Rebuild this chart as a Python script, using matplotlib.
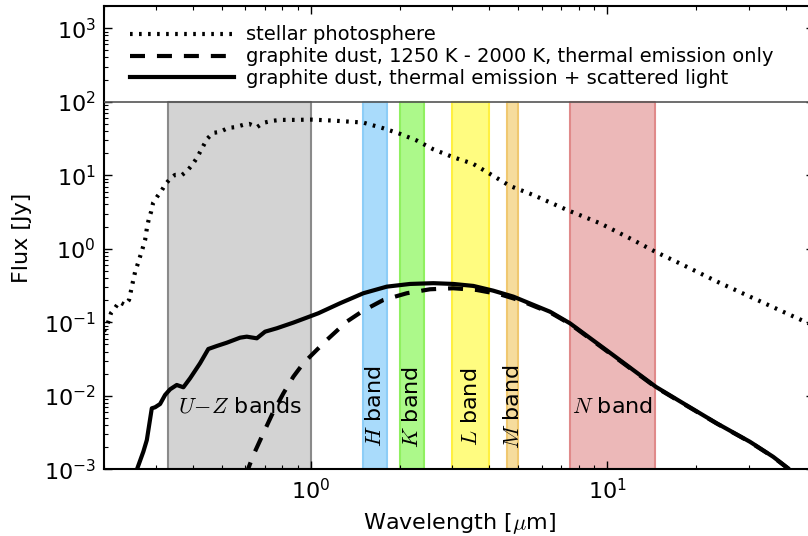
import numpy as np
import matplotlib
matplotlib.use("Agg")
import matplotlib.pyplot as plt
from matplotlib.ticker import LogLocator, NullFormatter

plt.rcParams['mathtext.fontset'] = 'cm'
plt.rcParams['axes.unicode_minus'] = False
plt.rcParams['lines.scale_dashes'] = False

# stellar photosphere
star_wl = [0.2, 0.2065, 0.2113, 0.218, 0.225, 0.2356, 0.243, 0.249, 0.2547, 0.2607,
           0.269, 0.2753, 0.2796, 0.2839, 0.2884, 0.293, 0.302, 0.314, 0.3214, 0.334,
           0.3475, 0.367, 0.3815, 0.3967, 0.412, 0.422, 0.4457, 0.4668, 0.493, 0.525,
           0.554, 0.5895, 0.618, 0.657, 0.689, 0.739, 0.786, 0.883, 1.0, 1.186,
           1.498, 1.75, 1.997, 2.275, 2.58, 3.015, 3.52, 4.02, 4.69, 5.61,
           7.31, 9.45, 12.2, 14.5, 18.0, 23.5, 30.3, 39.2, 47.2, 50.0]
star_flux = [0.075, 0.10, 0.134, 0.157, 0.189, 0.172, 0.201, 0.321, 0.483, 0.641,
             0.96, 1.32, 1.98, 2.62, 3.17, 4.2, 5.07, 6.3, 7.4, 8.9,
             10.1, 10.1, 11.4, 13.8, 17.2, 20.7, 31.2, 37.6, 38.8, 44.0,
             45.0, 48.3, 49.9, 45.0, 51.5, 54.8, 56.5, 56.5, 57.0, 55.3,
             52.0, 43.6, 36.5, 29.6, 22.6, 17.6, 14.3, 10.4, 7.15, 5.4,
             3.37, 2.22, 1.32, 0.912, 0.603, 0.356, 0.223, 0.139, 0.099, 0.09]

# graphite dust, thermal emission only
therm_wl = [0.60, 0.614, 0.639, 0.690, 0.746, 0.8065, 0.8715, 0.942, 1.045, 1.13,
            1.32, 1.501, 1.754, 2.104, 2.52, 3.02, 3.62, 4.34, 5.08, 5.78,
            6.41, 7.48, 10.45, 14.6, 18.05, 23.4, 30.3, 36.3, 40.8, 42.0]
therm_flux = [0.0008, 0.00103, 0.00157, 0.00309, 0.00608, 0.0108, 0.0182, 0.0277, 0.042, 0.0574,
              0.102, 0.144, 0.201, 0.248, 0.281, 0.290, 0.275, 0.240, 0.198, 0.160,
              0.136, 0.095, 0.0352, 0.0130, 0.0078, 0.0042, 0.00235, 0.00147, 0.00102, 0.0009]

# graphite dust, thermal emission + scattered light
total_wl = [0.256, 0.2716, 0.279, 0.290, 0.2975, 0.3093, 0.3215, 0.3343, 0.352, 0.3707,
            0.3905, 0.422, 0.450, 0.481, 0.5195, 0.576, 0.6067, 0.656, 0.6996, 0.766,
            0.8715, 0.967, 1.058, 1.253, 1.501, 1.801, 2.159, 2.587, 3.02, 3.53,
            4.12, 4.82, 5.78, 6.41, 7.48, 10.45, 14.6, 18.05, 23.4, 30.3,
            36.3, 40.8, 42.0]
total_flux = [0.0009, 0.00174, 0.0025, 0.00676, 0.00698, 0.00773, 0.01026, 0.01225, 0.01403, 0.01305,
              0.0173, 0.0277, 0.0433, 0.0476, 0.0527, 0.0617, 0.0637, 0.0605, 0.0745, 0.0828,
              0.0989, 0.1156, 0.1325, 0.1814, 0.248, 0.305, 0.332, 0.340, 0.332, 0.312,
              0.269, 0.223, 0.165, 0.139, 0.0968, 0.0359, 0.0132, 0.0079, 0.00423, 0.00237,
              0.00148, 0.00103, 0.0009]

# photometric bands: (lower, upper) wavelength in micron
band_names = [r'$U\!-\!Z$ bands', r'$H$ band', r'$K$ band', r'$L$ band', r'$M$ band', r'$N$ band']
band_lo = [0.33, 1.5, 2.0, 3.0, 4.6, 7.5]
band_hi = [1.0, 1.8, 2.4, 4.0, 5.0, 14.5]
band_face = ['#d3d3d3', '#a9dbfb', '#acf98a', '#fffc80', '#f6dc9d', '#ecb8b8']
band_edge = ['#8a8a8a', '#8ccdf7', '#90f060', '#fff040', '#f0c870', '#e08a8a']
band_rot = [0, 90, 90, 90, 90, 0]

ymin, ymax = 1e-3, 2e3
ytop = 1e2   # upper edge of the data region, legend sits above

fig = plt.figure(figsize=(8.08, 5.36), dpi=100)
ax = fig.add_axes([0.1287, 0.1244, 0.8792, 0.8644])
ax.set_xscale('log')
ax.set_yscale('log')
ax.set_xlim(0.2, 50)
ax.set_ylim(ymin, ymax)

for name, lo, hi, fc, ec, rot in zip(band_names, band_lo, band_hi, band_face, band_edge, band_rot):
    ax.fill_betweenx([ymin, ytop], lo, hi, facecolor=fc, edgecolor=ec, lw=1.5, zorder=1)
    ax.text(np.sqrt(lo * hi), 7.1e-3, name, rotation=rot, ha='center', va='center',
            fontsize=16, zorder=2)

ax.plot(star_wl, star_flux, color='k', lw=3, linestyle=(0, (1.9, 4.6)),
        label='stellar photosphere', zorder=3)
ax.plot(therm_wl, therm_flux, color='k', lw=3, linestyle=(0, (10.8, 8.6)),
        label='graphite dust, 1250 K - 2000 K, thermal emission only', zorder=3)
ax.plot(total_wl, total_flux, color='k', lw=3,
        label='graphite dust, thermal emission + scattered light', zorder=4)

ax.axhline(ytop, color='#555555', lw=1.2, zorder=5)

ax.legend(loc='upper left', bbox_to_anchor=(0.0366, 0.958), frameon=False,
          fontsize=14, handlelength=5.35, handletextpad=0.6, labelspacing=0.15,
          borderpad=0, borderaxespad=0)

ax.xaxis.set_minor_locator(LogLocator(base=10, subs=np.arange(2, 10)))
ax.yaxis.set_minor_locator(LogLocator(base=10, subs=np.arange(2, 10), numticks=20))
ax.yaxis.set_major_locator(LogLocator(base=10, numticks=20))
ax.xaxis.set_minor_formatter(NullFormatter())
ax.yaxis.set_minor_formatter(NullFormatter())
ax.tick_params(which='both', direction='in', top=True, right=True, labelsize=16, pad=6)
ax.tick_params(which='major', length=6, width=1)
ax.tick_params(which='minor', length=3, width=0.8)
for sp in ax.spines.values():
    sp.set_linewidth(1.5)

ax.set_xlabel(r'Wavelength [$\mu$m]', fontsize=16)
ax.set_ylabel('Flux [Jy]', fontsize=16)
ax.xaxis.set_label_coords(0.5, -0.09)
ax.yaxis.set_label_coords(-0.101, 0.5)

fig.savefig('out.png', dpi=100)
